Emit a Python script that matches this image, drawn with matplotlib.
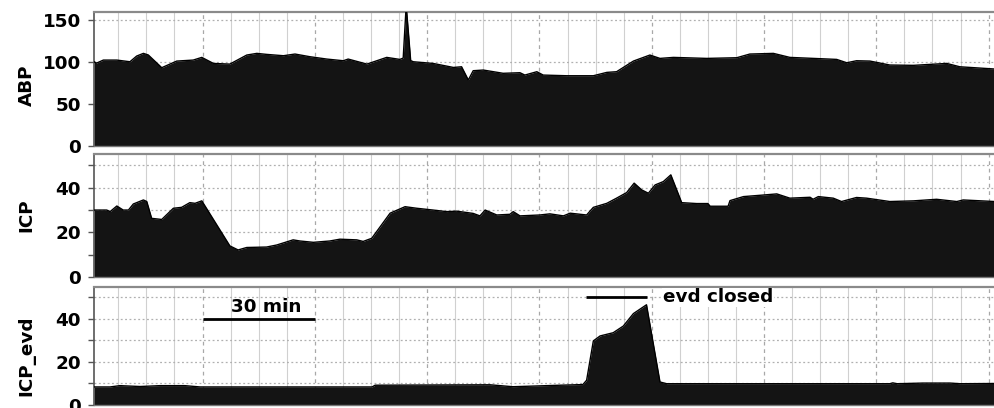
import matplotlib
matplotlib.use("Agg")
import matplotlib.pyplot as plt
from matplotlib.ticker import MultipleLocator

plt.rcParams['font.family'] = ['DejaVu Sans']
plt.rcParams['font.weight'] = 'bold'

# time in minutes
abp_t = [-29.0, -28.3, -26.5, -22.9, -19.4, -17.6, -15.8, -14.5, -10.9, -6.9,
         -2.5, -0.2, 2.9, 7.3, 11.8, 14.5, 17.1, 21.6, 24.7, 28.7,
         33.2, 37.6, 38.9, 43.9, 49.2, 52.7, 53.6, 54.4, 55.6, 56.3,
         61.6, 67.0, 69.2, 71.0, 72.3, 75.0, 80.3, 84.8, 86.1, 89.3,
         91.0, 97.3, 104.4, 108.0, 110.6, 115.1, 119.5, 122.2, 125.8, 134.7,
         142.7, 146.2, 152.5, 156.9, 163.2, 169.4, 172.1, 174.7, 178.3, 183.6,
         189.9, 198.8, 202.3, 211.7]
abp_v = [100.6, 99, 102.6, 102.6, 100.6, 107.4, 110.6, 108.7, 93.5, 101.4,
         102.6, 105.8, 98.6, 97.8, 108.6, 110.6, 109.4, 107.8, 109.8, 106.6,
         103.8, 101.8, 103.8, 97.8, 105.8, 103.4, 105, 168, 102, 100.6,
         98.6, 93.8, 94.6, 78.8, 89.9, 90.7, 86.8, 87.5, 84.7, 88.7,
         84.7, 83.9, 83.9, 87.9, 88.7, 101.4, 108.6, 104.6, 105.8, 104.6,
         105.4, 109.8, 110.6, 105.8, 104.6, 103.4, 99.4, 101.8, 101.4, 96.7,
         96.3, 98.6, 94.6, 91.9]

icp_t = [-29.0, -25.6, -24.7, -22.9, -21.2, -19.8, -18.5, -15.8, -14.9, -13.6,
         -10.9, -7.8, -5.6, -3.4, -2.0, -0.2, 7.3, 9.5, 11.8, 17.1,
         19.8, 24.2, 26.0, 29.6, 34.0, 36.7, 41.2, 42.9, 45.2, 50.1,
         54.1, 57.2, 61.6, 65.2, 67.9, 72.3, 74.1, 75.5, 78.6, 82.1,
         83.0, 84.8, 90.1, 92.8, 96.4, 98.2, 102.6, 104.4, 108.0, 110.6,
         113.3, 115.3, 117.3, 119.1, 120.9, 123.1, 125.1, 128.0, 132.0, 135.0,
         135.6, 140.4, 140.9, 144.5, 149.8, 153.4, 156.9, 162.3, 163.1, 164.5,
         168.5, 170.7, 174.7, 177.4, 183.6, 189.9, 196.1, 201.5, 203.2, 211.7]
icp_v = [30.0, 30.0, 29.3, 31.8, 30.0, 30.0, 32.7, 34.5, 33.8, 26.3,
         25.8, 30.8, 31.2, 33.3, 33.0, 34.1, 14.0, 12.2, 13.3, 13.5,
         14.4, 16.7, 16.2, 15.6, 16.2, 17.0, 16.7, 16.0, 17.4, 28.6,
         31.5, 30.8, 30.0, 29.3, 29.5, 28.5, 27.4, 30.0, 27.8, 28.1,
         29.3, 27.4, 27.8, 28.3, 27.4, 28.6, 27.8, 31.2, 33.0, 35.3,
         37.8, 42.0, 39.0, 37.5, 41.2, 42.7, 45.7, 33.3, 32.9, 32.9,
         31.7, 31.7, 34.2, 36.0, 36.7, 37.2, 35.3, 35.7, 34.8, 36.0,
         35.3, 33.8, 35.6, 35.3, 33.8, 34.1, 34.8, 33.8, 34.5, 33.8]

evd_t = [-29.0, -24.7, -22.1, -16.7, -11.4, -4.7, -0.7, 45.3, 46.1, 76.8,
         82.9, 95.5, 101.6, 102.6, 104.4, 106.2, 109.7, 112.4, 115.1, 118.6,
         122.2, 124.0, 183.6, 184.4, 185.5, 192.5, 199.7, 202.4, 211.7]
evd_v = [8.4, 8.4, 9.0, 8.6, 9.0, 9.0, 8.4, 8.4, 9.2, 9.4,
         8.5, 9.2, 9.5, 11.5, 29.8, 32.1, 33.6, 36.7, 42.5, 46.6,
         10.7, 9.9, 9.9, 10.3, 9.9, 10.2, 10.2, 9.9, 10.0]

labels = ['ABP', 'ICP', 'ICP_evd']
ylims = [(0, 160), (0, 55), (0, 55)]
major_y = [50, 20, 20]
minor_y = [50, 10, 10]
xlim = (-29.0, 211.7)

scale_bar = (0, 30, 40)        # start, end, level
scale_text = '30 min'
evd_bar = (102.4, 118.6, 50)
evd_text = 'evd closed'

fig = plt.figure(figsize=(9.95, 4.08), dpi=100)
L = 94 / 995
W = 1 - L
boxes = [(12, 146), (154, 277.3), (286.7, 405)]
label_y = [0.45, 0.5, 0.418]
FS = 13.2
data = [(abp_t, abp_v), (icp_t, icp_v), (evd_t, evd_v)]

for i, (top, bot) in enumerate(boxes):
    ax = fig.add_axes([L, 1 - bot / 408, W, (bot - top) / 408])
    t, v = data[i]
    ax.fill_between(t, v, 0, color='#141414', lw=0, zorder=2)
    ax.plot(t, v, color='black', lw=1.0, zorder=3)
    ax.set_xlim(*xlim)
    ax.set_ylim(*ylims[i])
    ax.set_axisbelow(True)
    ax.xaxis.set_major_locator(MultipleLocator(30))
    ax.xaxis.set_minor_locator(MultipleLocator(7.5))
    ax.yaxis.set_major_locator(MultipleLocator(major_y[i]))
    ax.yaxis.set_minor_locator(MultipleLocator(minor_y[i]))
    ax.grid(True, axis='x', which='minor', color='#d0d0d0', lw=0.8, ls='-')
    ax.grid(True, axis='x', which='major', color='#a8a8a8', lw=0.9, ls=(0, (3, 3)))
    ax.grid(True, axis='y', which='both', color='#b0b0b0', lw=0.9, ls=(0, (1.5, 2)))
    ax.tick_params(axis='x', which='both', length=0, labelbottom=False)
    ax.tick_params(axis='y', which='both', direction='out', length=4, width=1,
                   color='#555555', labelsize=FS, pad=5.5)
    for lab in ax.get_yticklabels():
        lab.set_fontweight('bold')
    ax.spines['right'].set_visible(False)
    ax.spines['left'].set_color('#555555')
    ax.spines['left'].set_linewidth(1.2)
    ax.spines['top'].set_color('#8a8a8a')
    ax.spines['top'].set_linewidth(1.6)
    ax.spines['bottom'].set_color('#777777')
    ax.spines['bottom'].set_linewidth(1.0)
    ax.set_ylabel(labels[i], fontsize=FS, fontweight='bold')
    ax.yaxis.set_label_coords(-0.065, label_y[i])
    if i == 2:
        ax.plot(scale_bar[:2], [scale_bar[2]] * 2, color='black', lw=2, zorder=4,
                solid_capstyle='butt')
        ax.text(17, scale_bar[2] + 1.5, scale_text, ha='center', va='bottom',
                fontsize=FS, fontweight='bold', zorder=5)
        ax.plot(evd_bar[:2], [evd_bar[2]] * 2, color='black', lw=2, zorder=4,
                solid_capstyle='butt')
        ax.text(122.9, evd_bar[2], evd_text, ha='left', va='center',
                fontsize=FS, fontweight='bold', zorder=5,
                bbox=dict(facecolor='white', edgecolor='none', pad=0.5))

fig.savefig('out.png', dpi=100)
